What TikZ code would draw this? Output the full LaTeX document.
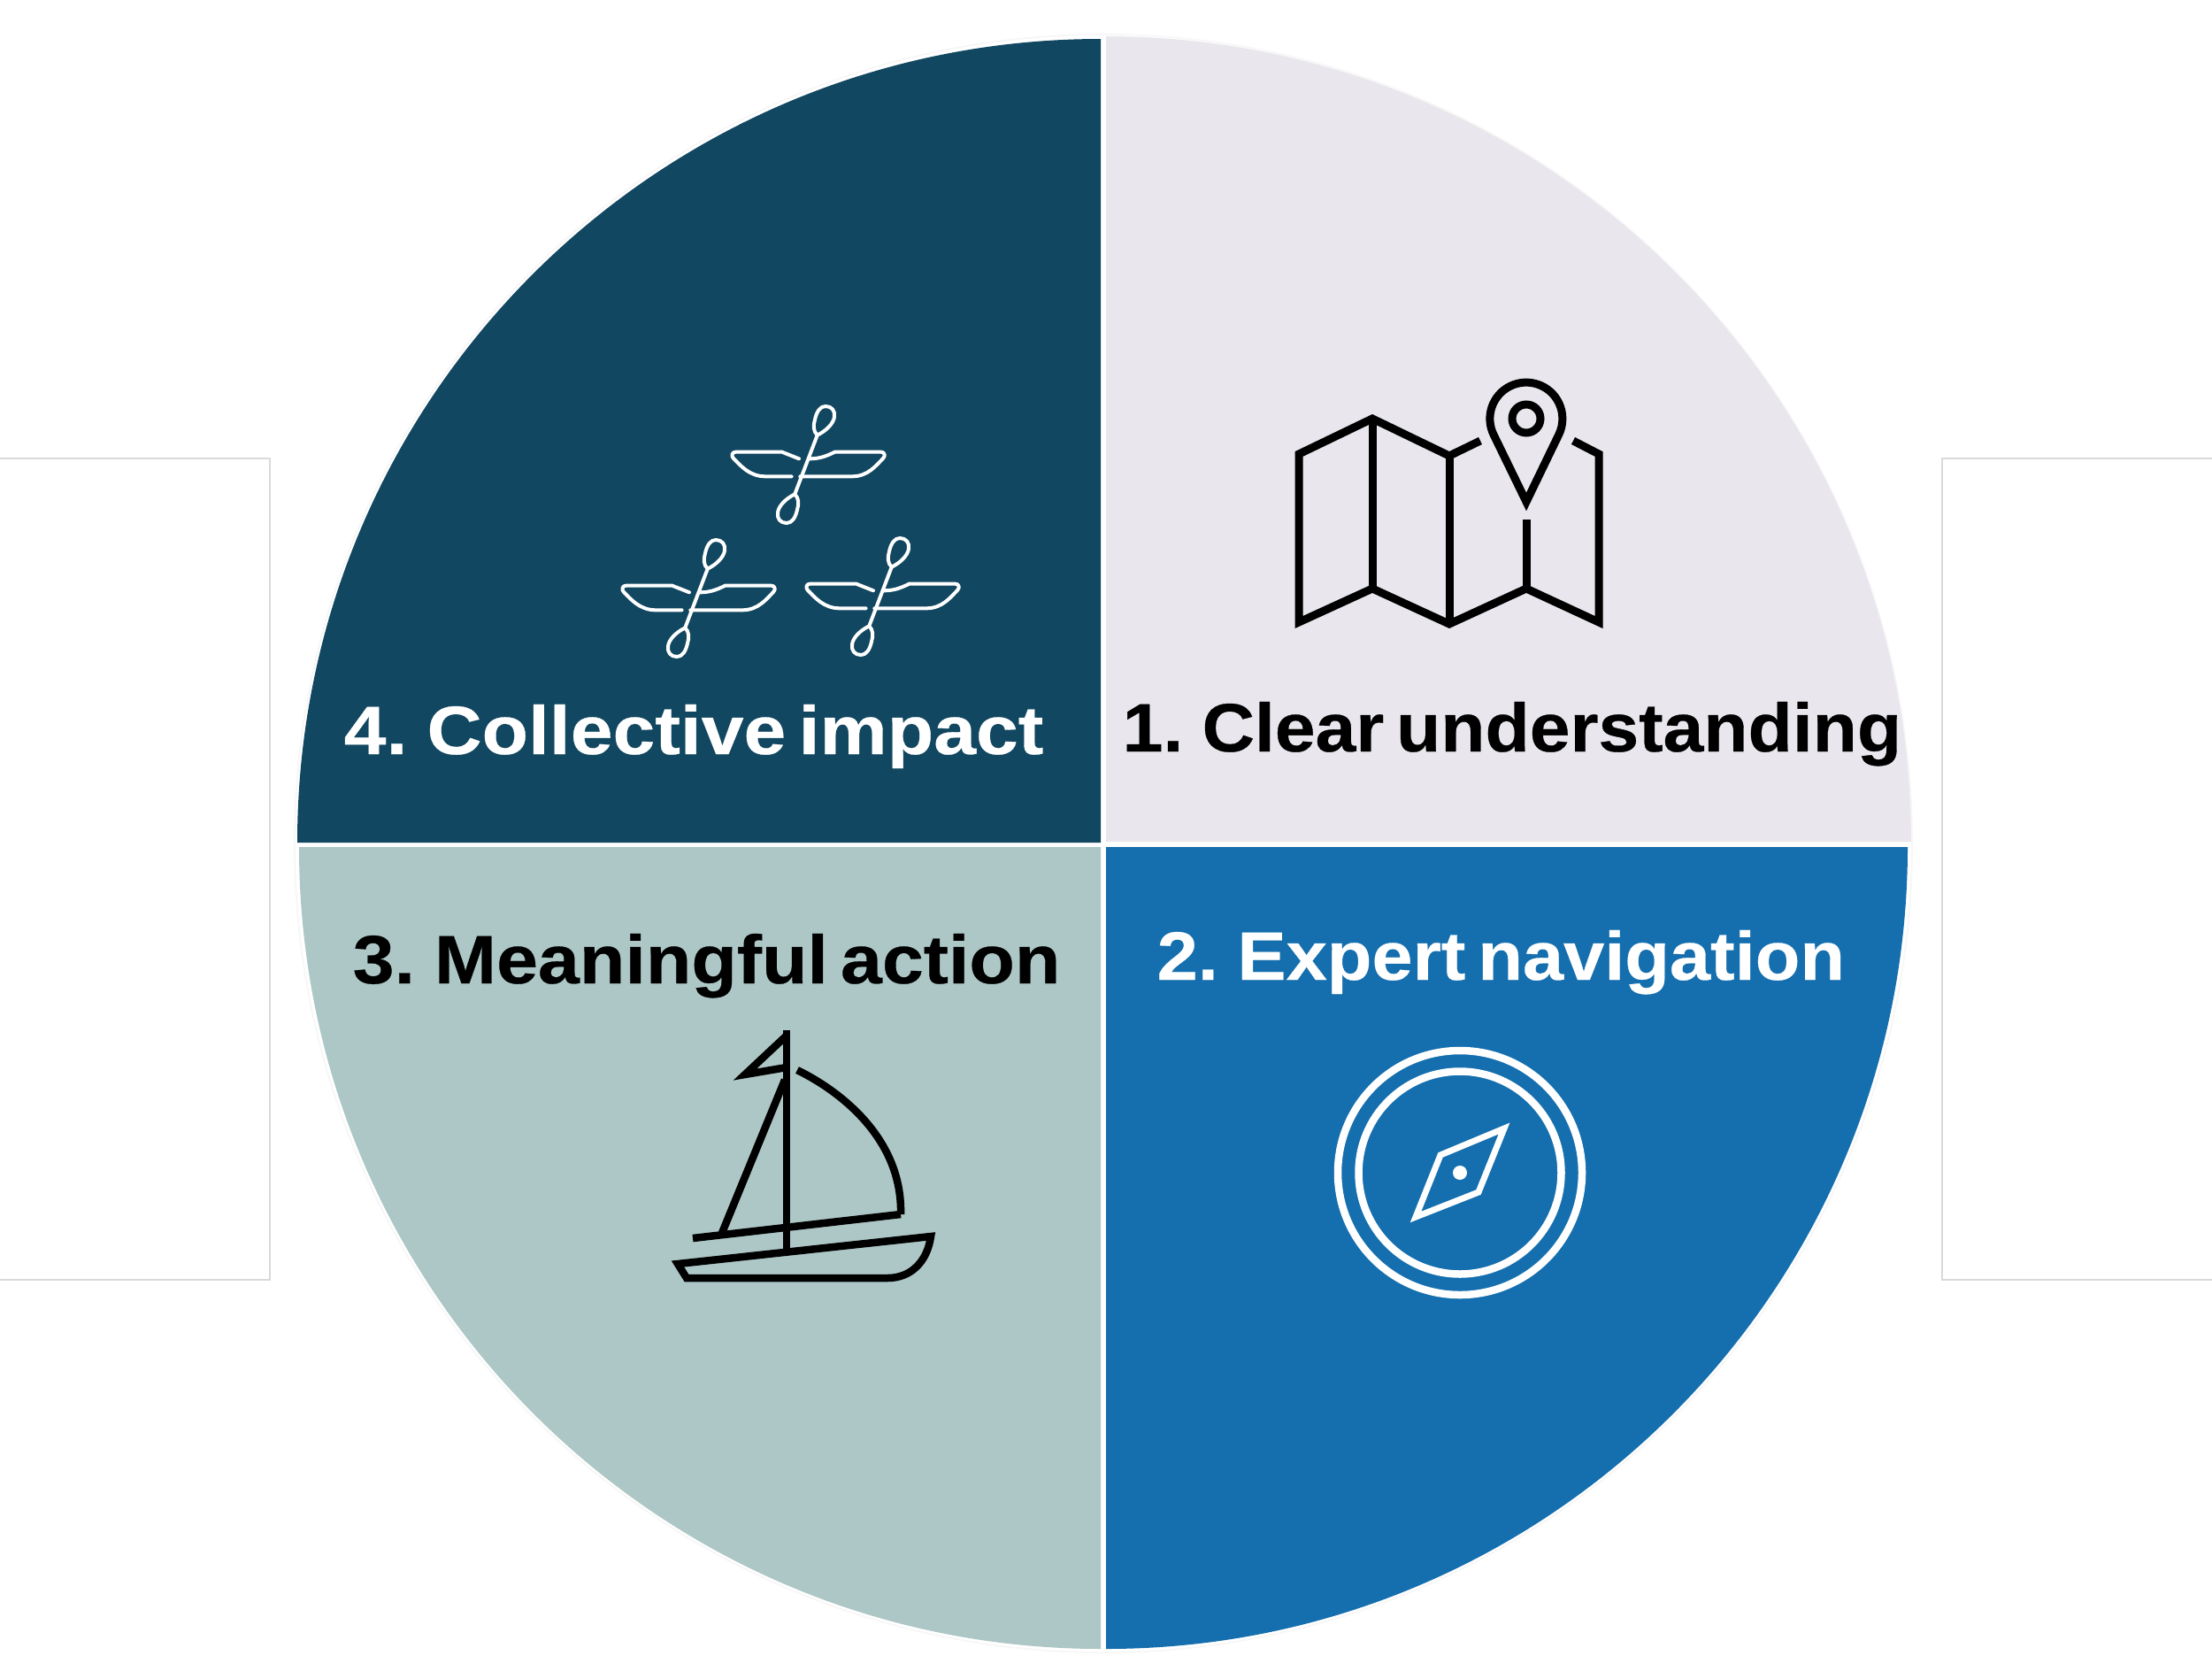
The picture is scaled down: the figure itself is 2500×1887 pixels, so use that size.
\documentclass[tikz,border=0pt]{standalone}
\usepackage{fontspec}
\setmainfont[WordSpace=0.6, BoldFeatures={FakeBold=0.4}]{Liberation Sans}
\definecolor{quadimpact}{HTML}{114760}
\definecolor{quadclear}{HTML}{E9E7ED}
\definecolor{quadaction}{HTML}{ADC7C6}
\definecolor{quadexpert}{HTML}{156FAE}
\begin{document}
\begin{tikzpicture}[x=0.01cm, y=-0.01cm,
    label/.style={anchor=base west, inner sep=0pt, font=\fontsize{22}{27}\selectfont\bfseries},
    sidebox/.style={draw=black!15, line width=0.02cm},
    mapline/.style={draw=black, line width=0.09cm, miter limit=10},
    boatline/.style={draw=black, line width=0.085cm, miter limit=10},
    compassline/.style={draw=white, line width=0.085cm, miter limit=10},
    pics/kayak/.style={code={
        \draw[white, line width=0.04cm, line join=round, line cap=round]
            (-8,-6.7) -- (-27.4,-14.4) -- (-79,-14.4) .. controls (-84,-14.4) and (-85,-10) .. (-82,-7)
            .. controls (-74,1) and (-64,13.3) .. (-46,13.3) -- (-16.4,13.3)
            (4.3,-6.7) .. controls (14,-6.7) and (22,-9) .. (32.6,-14.4) -- (84.3,-14.4)
            .. controls (89,-14.4) and (90,-10) .. (87,-7) .. controls (79,1) and (70,13.3) .. (52,13.3) -- (-6.7,13.3)
            (12.7,-33.3) -- (-12.7,33.3)
            (12.7,-33.3) .. controls (8,-38) and (8,-44) .. (10,-51) .. controls (12,-60) and (16,-66) .. (22,-66)
            .. controls (29,-66) and (33,-61) .. (32,-54) .. controls (31,-47) and (24,-39) .. (12.7,-33.3)
            (-12.7,33.3) .. controls (-8,38) and (-8,44) .. (-10,51) .. controls (-12,60) and (-16,66) .. (-22,66)
            .. controls (-29,66) and (-33,61) .. (-32,54) .. controls (-31,47) and (-24,39) .. (-12.7,33.3);
    }}]
    \useasboundingbox (0,0) rectangle (2500,1887);

    \draw[sidebox] (0,518) -- (305,518) -- (305,1446) -- (0,1446);
    \draw[sidebox] (2500,518) -- (2195,518) -- (2195,1446) -- (2500,1446);

    \draw[black!3, line width=0.02cm] (1247,953) circle (914);
    \fill[quadimpact] (1244,952) -- (336,952) arc[start angle=180, end angle=270, radius=908] -- cycle;
    \fill[quadclear] (1250,951) -- (1250,41) arc[start angle=270, end angle=360, radius=910] -- cycle;
    \fill[quadaction] (1244,957) -- (1244,1863) arc[start angle=90, end angle=180, radius=906] -- cycle;
    \fill[quadexpert] (1250,957) -- (2156,957) arc[start angle=0, end angle=90, radius=906] -- cycle;

    \node[label, text=white] (impact) at (388,852) {\scalebox{1.11}[1]{4. Collective impact}};
    \node[label, text=black] (clear) at (1268,849) {\scalebox{1.063}[1]{1. Clear understanding}};
    \node[label, text=black] (action) at (398,1111) {\scalebox{1.09}[1]{3. Meaningful action}};
    \node[label, text=white] (expert) at (1307,1107) {\scalebox{1.072}[1]{2. Expert navigation}};

    \draw[mapline] (1673,498) -- (1638,515) -- (1551,473) -- (1468,513) -- (1468,703) -- (1551,665)
        -- (1638,705) -- (1725,665) -- (1807,703) -- (1807,513) -- (1778,498);
    \draw[mapline] (1551,473) -- (1551,665) (1638,515) -- (1638,705) (1725,587) -- (1725,665);
    \draw[mapline] (1725,567) -- (1688,491) arc[start angle=154.1, end angle=385.9, radius=41] -- cycle;
    \draw[mapline] (1725,473) circle (16);

    \pic at (911,525) {kayak};
    \pic at (787,676) {kayak};
    \pic at (995,674) {kayak};

    \draw[boatline] (889,1164) -- (889,1413);
    \draw[boatline] (889,1170) -- (842,1214) -- (889,1206);
    \draw[boatline] (887,1220) -- (816,1393);
    \draw[boatline] (783,1399) -- (1018,1372);
    \draw[boatline] (901,1209) .. controls (952,1234) and (1020,1288) .. (1018,1372);
    \draw[boatline] (766,1428) -- (1052,1397) .. controls (1048,1425) and (1030,1444) .. (1003,1444)
        -- (776,1444) -- cycle;

    \draw[compassline] (1650,1325) circle (138);
    \draw[compassline] (1650,1325) circle (114.5);
    \draw[compassline, line width=0.07cm] (1700,1275) -- (1671,1347) -- (1600,1375) -- (1628,1305) -- cycle;
    \fill[white] (1650,1325) circle (8);
\end{tikzpicture}
\end{document}
